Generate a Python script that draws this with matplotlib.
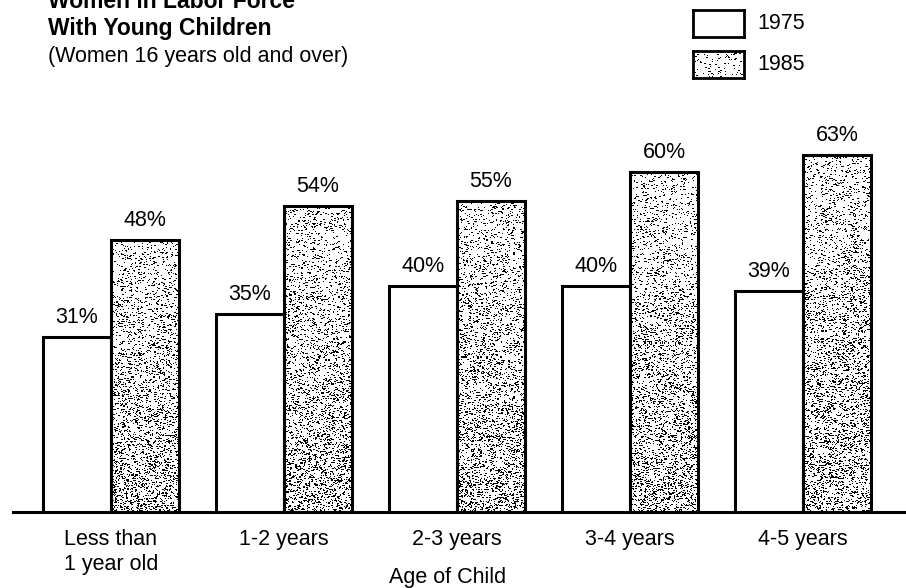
"""
    women in labor force with young children, 1975 vs 1985
"""

import matplotlib.pyplot as plt
import numpy as np

plt.rcParams['font.family'] = ['Liberation Sans', 'DejaVu Sans']

ages = ["Less than\n1 year old", "1-2 years", "2-3 years", "3-4 years", "4-5 years"]
share_1975 = [31, 35, 40, 40, 39]
share_1985 = [48, 54, 55, 60, 63]
years = ["1975", "1985"]

W, H = 906, 588
rng = np.random.default_rng(7)


def stipple(h, w, p_top, p_bottom):
    # speckled texture: sparse specks, denser towards the bottom,
    # some of them doubled up into small 2px clumps
    p = np.linspace(p_top, p_bottom, h)[:, None]
    dots = rng.random((h, w)) < p
    clump = dots & (rng.random((h, w)) < 0.35)
    dots[:, 1:] |= clump[:, :-1]
    return 1.0 - dots


def main():
    fig = plt.figure(figsize=(W / 100, H / 100), dpi=100)
    ax = fig.add_axes([13 / W, 76 / H, (W - 13) / W, 412 / H])

    x = np.arange(len(ages))
    width = 0.393
    px_per_unit = 5.66

    for i, v in enumerate(share_1975):
        ax.bar(x[i] - width / 2, v, width, facecolor="white", edgecolor="black",
               linewidth=2.2, zorder=3)
        ax.annotate(f"{v}%", (x[i] - width / 2, v), xytext=(0, 14),
                    textcoords="offset points", ha="center", va="center", fontsize=15.5)

    for i, v in enumerate(share_1985):
        bar = ax.bar(x[i] + width / 2, v, width, facecolor="none", edgecolor="black",
                     linewidth=2.2, zorder=3)[0]
        h_px = int(v * px_per_unit)
        img = stipple(h_px, 68, 0.09, 0.22)
        im = ax.imshow(img, cmap="gray", vmin=0, vmax=1, interpolation="nearest",
                       extent=(x[i], x[i] + width, 0, v), aspect="auto", zorder=2)
        im.set_clip_path(bar)
        ax.annotate(f"{v}%", (x[i] + width / 2, v), xytext=(0, 14),
                    textcoords="offset points", ha="center", va="center", fontsize=15.5)

    ax.set_xlim((13 - 111) / 173, (W - 111) / 173)
    ax.set_ylim(0, 412 / px_per_unit)
    ax.set_xticks(x)
    ax.set_xticklabels(ages, fontsize=15.5, linespacing=1.3)
    ax.tick_params(axis="x", length=0, pad=12)
    ax.set_yticks([])
    for side in ["top", "left", "right"]:
        ax.spines[side].set_visible(False)
    ax.spines["bottom"].set_linewidth(2.2)
    ax.patch.set_alpha(0)

    fig.text(448 / W, 1 - 578 / H, "Age of Child", ha="center", va="center", fontsize=15.5)

    # title block
    fig.text(48 / W, 1 - 8 / H, "Women in Labor Force", fontsize=16.5, fontweight="bold",
             va="baseline")
    fig.text(48 / W, 1 - 35 / H, "With Young Children", fontsize=16.5, fontweight="bold",
             va="baseline")
    fig.text(48 / W, 1 - 62 / H, "(Women 16 years old and over)", fontsize=15.5,
             va="baseline")

    # legend swatches
    for j, (label, top) in enumerate(zip(years, [10, 51])):
        lax = fig.add_axes([693 / W, 1 - (top + 27) / H, 51 / W, 27 / H])
        lax.set_xticks([])
        lax.set_yticks([])
        for s in lax.spines.values():
            s.set_linewidth(2.0)
        if j == 1:
            lax.imshow(stipple(27, 51, 0.06, 0.06), cmap="gray", vmin=0, vmax=1,
                       interpolation="nearest", aspect="auto")
        fig.text(757 / W, 1 - (top + 13.5) / H, label, fontsize=15.5, va="center")

    fig.savefig("out.png", dpi=100)


if __name__ == "__main__":
    main()
